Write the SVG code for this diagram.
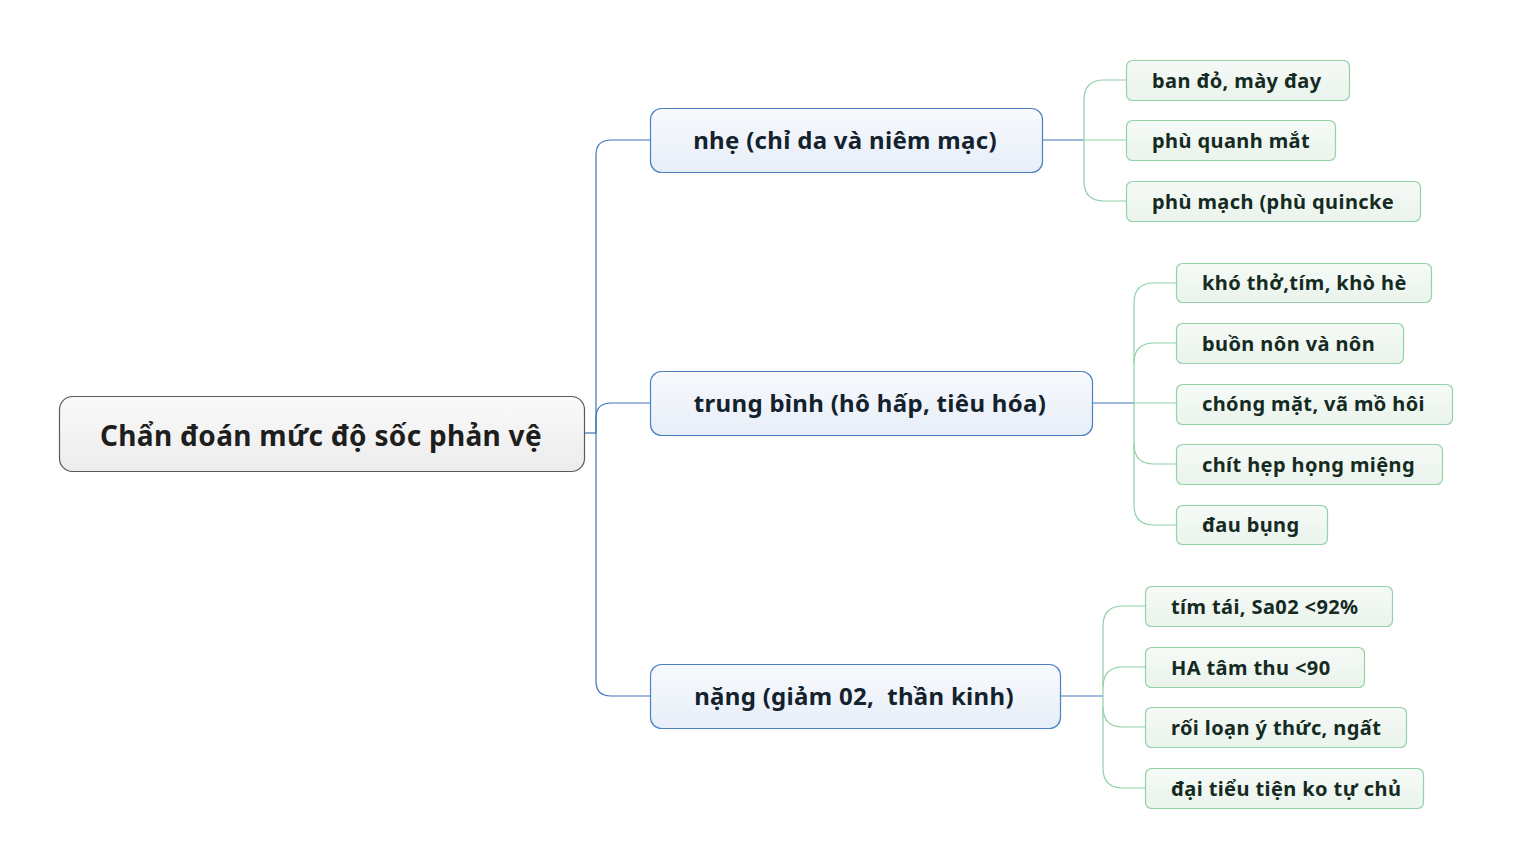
<svg xmlns="http://www.w3.org/2000/svg" width="1513" height="867" viewBox="0 0 1513 867">
<defs>
<linearGradient id="gRoot" x1="0" y1="0" x2="0" y2="1"><stop offset="0" stop-color="#fafafa"/><stop offset="1" stop-color="#ececec"/></linearGradient>
<linearGradient id="gMain" x1="0" y1="0" x2="0" y2="1"><stop offset="0" stop-color="#f8fafd"/><stop offset="1" stop-color="#e7eef8"/></linearGradient>
<linearGradient id="gLeaf" x1="0" y1="0" x2="0" y2="1"><stop offset="0" stop-color="#f6faf7"/><stop offset="1" stop-color="#eaf3ec"/></linearGradient>
</defs>
<style>
text{font-family:"Noto Sans","Open Sans","DejaVu Sans",sans-serif;font-weight:bold;white-space:pre}
.root rect{fill:url(#gRoot);stroke:#5a5a5a;stroke-width:1.2}
.root text{font-size:28px;fill:#1e1e1e;letter-spacing:0.3px}
.main rect{fill:url(#gMain);stroke:#4c82c4;stroke-width:1.2}
.main text{font-size:24px;fill:#13222d;letter-spacing:0.3px}
.leaf rect{fill:url(#gLeaf);stroke:#93d2a9;stroke-width:1.2}
.leaf text{font-size:20px;fill:#152b22;letter-spacing:0.4px}
.cb{fill:none;stroke:#3f74b8;stroke-width:1.2}
.cg{fill:none;stroke:#8fd0a6;stroke-width:1.2}
</style>
<rect width="1513" height="867" fill="#ffffff"/>
<g id="connectors">
<path class="cb" d="M584,433 H596"/>
<path class="cb" d="M596,433 V155 Q596,140 611,140 H650"/>
<path class="cb" d="M596,433 V418 Q596,403 611,403 H650"/>
<path class="cb" d="M596,433 V681 Q596,696 611,696 H650"/>
<path class="cb" d="M1042,140 H1084"/>
<path class="cg" d="M1084,140 V100 Q1084,80 1104,80 H1126"/>
<path class="cg" d="M1084,140 H1126"/>
<path class="cg" d="M1084,140 V181 Q1084,201 1104,201 H1126"/>
<path class="cb" d="M1092,403 H1134"/>
<path class="cg" d="M1134,403 V303 Q1134,283 1154,283 H1176"/>
<path class="cg" d="M1134,363 Q1134,343 1154,343 H1176"/>
<path class="cg" d="M1134,403 H1176"/>
<path class="cg" d="M1134,444 Q1134,464 1154,464 H1176"/>
<path class="cg" d="M1134,403 V505 Q1134,525 1154,525 H1176"/>
<path class="cb" d="M1060,696 H1103"/>
<path class="cg" d="M1103,696 V626 Q1103,606 1123,606 H1145"/>
<path class="cg" d="M1103,687 Q1103,667 1123,667 H1145"/>
<path class="cg" d="M1103,707 Q1103,727 1123,727 H1145"/>
<path class="cg" d="M1103,696 V768 Q1103,788 1123,788 H1145"/>
</g>
<g id="root" class="root"><rect x="59.5" y="396.5" width="525" height="75" rx="13"/><text x="321" y="446" text-anchor="middle">Chẩn đoán mức độ sốc phản vệ</text></g>
<g id="n1" class="main"><rect x="650.5" y="108.5" width="392" height="64" rx="11"/><text x="845" y="149" text-anchor="middle">nhẹ (chỉ da và niêm mạc)</text></g>
<g id="n2" class="main"><rect x="650.5" y="371.5" width="442" height="64" rx="11"/><text x="870" y="412" text-anchor="middle">trung bình (hô hấp, tiêu hóa)</text></g>
<g id="n3" class="main"><rect x="650.5" y="664.5" width="410" height="64" rx="11"/><text x="854" y="705" text-anchor="middle">nặng (giảm 02,  thần kinh)</text></g>
<g id="l1" class="leaf"><rect x="1126.5" y="60.5" width="223" height="40" rx="6"/><text x="1152" y="88">ban đỏ, mày đay</text></g>
<g id="l2" class="leaf"><rect x="1126.5" y="120.5" width="209" height="40" rx="6"/><text x="1152" y="148">phù quanh mắt</text></g>
<g id="l3" class="leaf"><rect x="1126.5" y="181.5" width="294" height="40" rx="6"/><text x="1152" y="209">phù mạch (phù quincke</text></g>
<g id="l4" class="leaf"><rect x="1176.5" y="263.5" width="255" height="39" rx="6"/><text x="1202" y="290">khó thở,tím, khò hè</text></g>
<g id="l5" class="leaf"><rect x="1176.5" y="323.5" width="227" height="40" rx="6"/><text x="1202" y="351">buồn nôn và nôn</text></g>
<g id="l6" class="leaf"><rect x="1176.5" y="384.5" width="276" height="40" rx="6"/><text x="1202" y="411">chóng mặt, vã mồ hôi</text></g>
<g id="l7" class="leaf"><rect x="1176.5" y="444.5" width="266" height="40" rx="6"/><text x="1202" y="472">chít hẹp họng miệng</text></g>
<g id="l8" class="leaf"><rect x="1176.5" y="505.5" width="151" height="39" rx="6"/><text x="1202" y="532">đau bụng</text></g>
<g id="l9" class="leaf"><rect x="1145.5" y="586.5" width="247" height="40" rx="6"/><text x="1171" y="614">tím tái, Sa02 &lt;92%</text></g>
<g id="l10" class="leaf"><rect x="1145.5" y="647.5" width="219" height="40" rx="6"/><text x="1171" y="675">HA tâm thu &lt;90</text></g>
<g id="l11" class="leaf"><rect x="1145.5" y="707.5" width="261" height="40" rx="6"/><text x="1171" y="735">rối loạn ý thức, ngất</text></g>
<g id="l12" class="leaf"><rect x="1145.5" y="768.5" width="278" height="40" rx="6"/><text x="1171" y="796">đại tiểu tiện ko tự chủ</text></g>
</svg>
